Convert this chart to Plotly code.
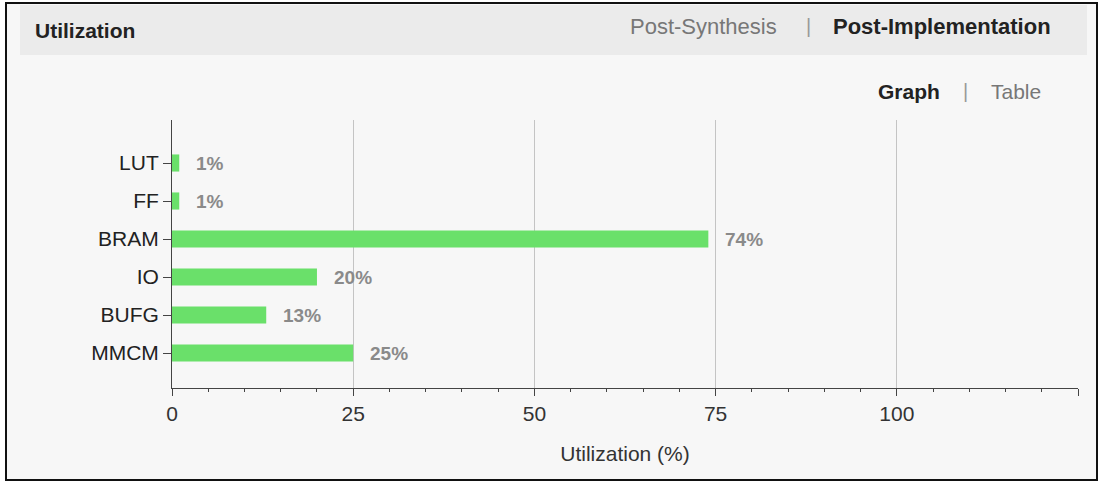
import plotly.graph_objects as go

categories = ["LUT", "FF", "BRAM", "IO", "BUFG", "MMCM"]
utilization = [1, 1, 74, 20, 13, 25]
value_labels = ["1%", "1%", "74%", "20%", "13%", "25%"]
x_ticks = [0, 25, 50, 75, 100]

W, H = 1099, 483
L, R, T, B = 172, 1078, 120, 388
FONT = "Liberation Sans, Arial, sans-serif"


def fx(px):
    return (px - L) / (R - L)


def fy(py):
    return (B - py) / (B - T)


fig = go.Figure()
fig.add_trace(go.Bar(
    y=categories, x=utilization, orientation="h",
    marker=dict(color="#6ae06a", line=dict(width=0)),
    width=0.45, hoverinfo="x+y",
))

for c, v, t in zip(categories, utilization, value_labels):
    fig.add_annotation(x=v, y=c, text="<b>%s</b>" % t, showarrow=False,
                       xanchor="left", yanchor="middle", xshift=15,
                       font=dict(family=FONT, size=19, color="#8a8a8a"))

shapes = [
    dict(type="rect", xref="paper", yref="paper", x0=fx(6), x1=fx(1097), y0=fy(480), y1=fy(3),
         fillcolor="#f7f7f7", line=dict(color="#111111", width=2), layer="below"),
    dict(type="rect", xref="paper", yref="paper", x0=fx(20), x1=fx(1087), y0=fy(55), y1=fy(5),
         fillcolor="#ebebeb", line=dict(width=0), layer="below"),
]

header = [
    dict(text="<b>Utilization</b>", x=fx(33), y=fy(30), xanchor="left", color="#222222", size=21),
    dict(text="Post-Synthesis", x=fx(779), y=fy(26), xanchor="right", color="#777777", size=22),
    dict(text="|", x=fx(808), y=fy(26), xanchor="center", color="#999999", size=20),
    dict(text="<b>Post-Implementation</b>", x=fx(1053), y=fy(26), xanchor="right", color="#222222", size=22),
    dict(text="<b>Graph</b>", x=fx(942), y=fy(91), xanchor="right", color="#222222", size=21),
    dict(text="|", x=fx(965), y=fy(91), xanchor="center", color="#999999", size=20),
    dict(text="Table", x=fx(1043), y=fy(91), xanchor="right", color="#777777", size=21),
]
for h in header:
    fig.add_annotation(text=h["text"], x=h["x"], y=h["y"], xref="paper", yref="paper",
                       xanchor=h["xanchor"], yanchor="middle", showarrow=False,
                       font=dict(family=FONT, size=h["size"], color=h["color"]))

fig.update_layout(
    width=W, height=H,
    margin=dict(l=L, r=W - R, t=T, b=H - B, pad=0),
    paper_bgcolor="white",
    plot_bgcolor="rgba(0,0,0,0)",
    showlegend=False,
    shapes=shapes,
    font=dict(family=FONT, size=21, color="#333333"),
    xaxis=dict(
        range=[0, 125], tickvals=x_ticks + [125], ticktext=[str(v) for v in x_ticks] + [""],
        showgrid=True, gridcolor="#c4c4c4", gridwidth=1,
        zeroline=False, showline=True, linecolor="#444444", linewidth=1,
        ticks="outside", ticklen=7, tickcolor="#444444",
        minor=dict(dtick=5, tick0=0, ticks="outside", ticklen=3, tickcolor="#444444", showgrid=False),
        tickfont=dict(family=FONT, size=21, color="#333333"),
        title=dict(text="Utilization (%)", font=dict(family=FONT, size=21, color="#333333"), standoff=22),
        fixedrange=True,
    ),
    yaxis=dict(
        categoryorder="array", categoryarray=categories,
        range=[5 + 35 / 38, -43 / 38],
        showgrid=False, zeroline=False, showline=True, linecolor="#444444", linewidth=1,
        ticks="outside", ticklen=8, tickcolor="#444444",
        tickfont=dict(family=FONT, size=21, color="#222222"),
        fixedrange=True,
    ),
)

fig.write_html("out.html", config={"displayModeBar": False},
               post_script="document.body.style.margin='0';document.body.style.padding='0';")
